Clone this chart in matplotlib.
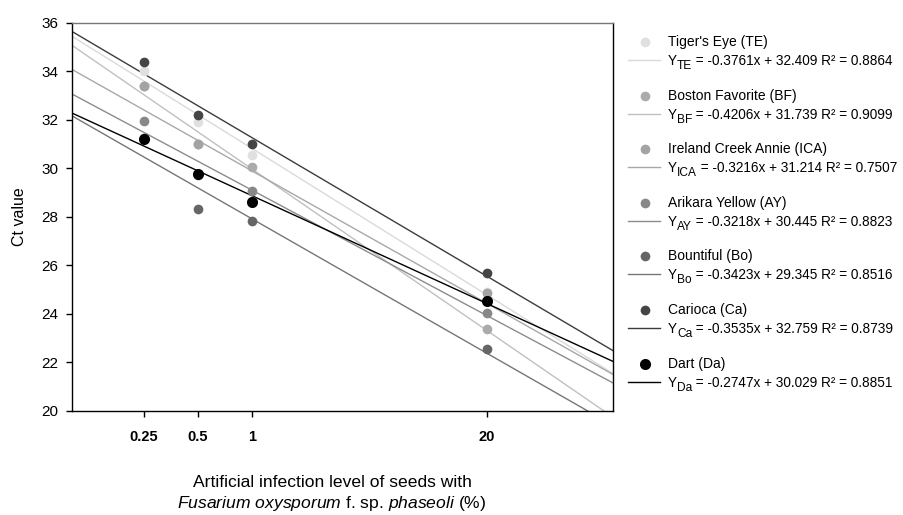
import numpy as np
import matplotlib
matplotlib.use("Agg")
import matplotlib.pyplot as plt
from matplotlib.transforms import offset_copy

plt.rcParams['font.family'] = ['Liberation Sans', 'DejaVu Sans']
plt.rcParams['mathtext.fontset'] = 'custom'
plt.rcParams['mathtext.rm'] = 'Liberation Sans'
plt.rcParams['mathtext.it'] = 'Liberation Sans:italic'
plt.rcParams['mathtext.bf'] = 'Liberation Sans:bold'

# infection levels (%) and Ct values per cultivar
levels = [0.25, 0.5, 1, 20]
names = ["Tiger's Eye (TE)", "Boston Favorite (BF)", "Ireland Creek Annie (ICA)",
         "Arikara Yellow (AY)", "Bountiful (Bo)", "Carioca (Ca)", "Dart (Da)"]
codes = ["TE", "BF", "ICA", "AY", "Bo", "Ca", "Da"]
ct_te = [34.02, 31.92, 30.54, 24.91]
ct_bf = [33.39, 30.99, 30.06, 23.36]
ct_ica = [33.39, 30.99, 28.63, 24.85]
ct_ay = [31.96, 29.73, 29.07, 24.02]
ct_bo = [31.24, 28.32, 27.84, 22.53]
ct_ca = [34.39, 32.19, 31.00, 25.69]
ct_da = [31.19, 29.76, 28.62, 24.52]
slopes = [-0.3761, -0.4206, -0.3216, -0.3218, -0.3423, -0.3535, -0.2747]
intercepts = [32.409, 31.739, 31.214, 30.445, 29.345, 32.759, 30.029]
r2 = [0.8864, 0.9099, 0.7507, 0.8823, 0.8516, 0.8739, 0.8851]

series = [ct_te, ct_bf, ct_ica, ct_ay, ct_bo, ct_ca, ct_da]
dot_col = ["#e0e0e0", "#ababab", "#a3a3a3", "#888888", "#666666", "#454545", "#000000"]
line_col = ["#dadada", "#c0c0c0", "#a8a8a8", "#8c8c8c", "#767676", "#3c3c3c", "#000000"]
dot_size = [7, 7, 7, 7, 7, 7, 8]

W, H = 904, 515
fig = plt.figure(figsize=(W / 100, H / 100), dpi=100)
ax = fig.add_axes([72 / W, 1 - 410.7 / H, (612.7 - 72) / W, (410.7 - 22.7) / H])
ax.set_xscale('log')
xlim = (0.1, 100)
ax.set_xlim(*xlim)
ax.set_ylim(20, 36)

# regression lines (log scale) then points
xs = np.array(xlim)
for ct, lc in zip(series, line_col):
    coef = np.polyfit(np.log10(levels), ct, 1)
    ax.plot(xs, np.polyval(coef, np.log10(xs)), color=lc, lw=1.0, zorder=2)
for ct, dc, ms in zip(series, dot_col, dot_size):
    ax.plot(levels, ct, 'o', color=dc, ms=ms, mec='none', zorder=3, clip_on=False)

ax.set_xticks(levels)
ax.set_xticklabels(["0.25", "0.5", "1", "20"], fontweight='bold')
ax.xaxis.set_minor_locator(plt.NullLocator())
ax.set_yticks(np.arange(20, 37, 2))
ax.tick_params(axis='x', direction='out', length=4, width=1, pad=10, labelsize=10.5)
ax.tick_params(axis='y', direction='out', length=4, width=1, pad=6, labelsize=11)
for s in ax.spines.values():
    s.set_linewidth(1.0)
ax.spines['top'].set_color('#777777')

fig.text(19 / W, 1 - 216.7 / H, "Ct value", rotation=90, ha='center', va='center', fontsize=11.5)
fig.text(332 / W, 1 - 494 / H,
         "Artificial infection level of seeds with\n"
         r"$\mathit{Fusarium\ oxysporum}$ f. sp. $\mathit{phaseoli}$ (%)",
         ha='center', va='center', multialignment='center', fontsize=12.6, linespacing=1.25)

# legend drawn in pixel coordinates
lax = fig.add_axes([0, 0, 1, 1])
lax.set_xlim(0, W)
lax.set_ylim(H, 0)
lax.axis('off')
renderer = fig.canvas.get_renderer()


def put_pieces(x, y, pieces):
    # pieces: (text, fontsize, drop in px); laid out left to right
    dx = 0.0
    for txt, fs, drop in pieces:
        tr = offset_copy(lax.transData, fig=fig, x=dx, y=-drop, units='dots')
        t = lax.text(x, y, txt, transform=tr, va='baseline', ha='left', fontsize=fs)
        dx += t.get_window_extent(renderer).width


for i in range(len(names)):
    y0 = 42 + 53.6 * i
    lax.plot([645], [y0], 'o', color=dot_col[i], ms=dot_size[i], mec='none')
    lax.text(668, y0, names[i], va='center', ha='left', fontsize=10)
    lax.plot([628, 660], [y0 + 18, y0 + 18], color=line_col[i], lw=1.0)
    rest = " = %.4fx + %.3f R² = %.4f" % (slopes[i], intercepts[i], r2[i])
    put_pieces(668, y0 + 23, [("Y", 9.8, 0), (codes[i], 8.6, 4), (rest, 9.8, 0)])

fig.savefig("out.png", dpi=100)
